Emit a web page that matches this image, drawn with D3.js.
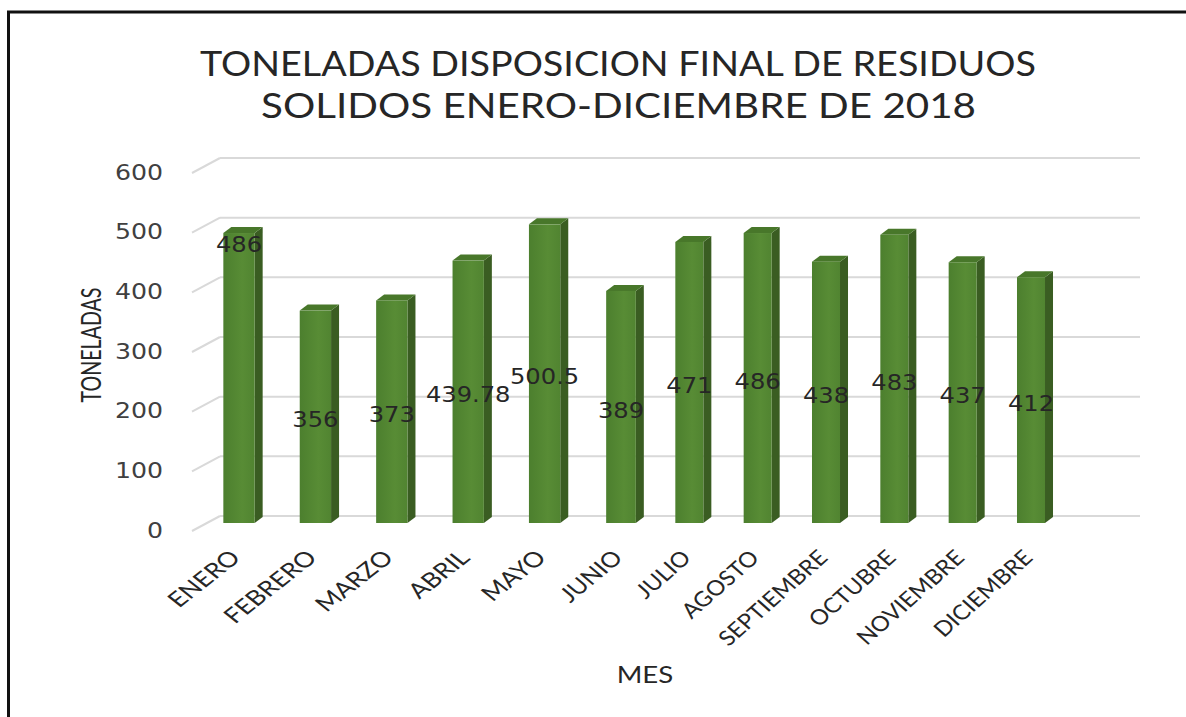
<!DOCTYPE html>
<html>
<head>
<meta charset="utf-8">
<script src="https://cdn.jsdelivr.net/npm/d3@7"></script>
<style>
  body { margin: 0; background: #fff; }
  svg { display: block; }
</style>
</head>
<body>
<div id="chart"></div>
<script>
// data
var months = ["ENERO", "FEBRERO", "MARZO", "ABRIL", "MAYO", "JUNIO",
  "JULIO", "AGOSTO", "SEPTIEMBRE", "OCTUBRE", "NOVIEMBRE", "DICIEMBRE"];
var tons = [486, 356, 373, 439.78, 500.5, 389, 471, 486, 438, 483, 437, 412];
var yTicks = [0, 100, 200, 300, 400, 500, 600];
var titleLines = ["TONELADAS DISPOSICION FINAL DE RESIDUOS", "SOLIDOS ENERO-DICIEMBRE DE 2018"];

var svgWidth = 1186;
var svgHeight = 717;
var labelFont = "Lato, 'Open Sans', sans-serif";
var numFont = "'DejaVu Sans', sans-serif";
// the source image is stretched sideways a little, so text is too
var stretch = 1.2;

var svg = d3.select("#chart")
  .append("svg")
  .attr("width", svgWidth)
  .attr("height", svgHeight);

var defs = svg.append("defs");
var grad = defs.append("linearGradient").attr("id", "front");
grad.append("stop").attr("offset", "0%").attr("stop-color", "#4c7f2e");
grad.append("stop").attr("offset", "60%").attr("stop-color", "#588c35");
grad.append("stop").attr("offset", "100%").attr("stop-color", "#518431");
defs.append("filter").attr("id", "blur")
  .append("feGaussianBlur").attr("stdDeviation", 1.5);

// frame (only top and left edges show in the picture)
svg.append("rect")
  .attr("x", 8.5).attr("y", 12)
  .attr("width", 1300).attr("height", 800)
  .attr("fill", "none")
  .attr("stroke", "#111")
  .attr("stroke-width", 3);

// scales - the original 3d view spaces the right half a bit tighter
var xScale = d3.scaleLinear().domain([0, 5, 11]).range([239, 621, 1031]);
var yScale = d3.scaleLinear().domain([0, 600]).range([523, 165]);
var step = i => xScale(i + 0.5) - xScale(i - 0.5);

var depthX = 8, depthY = 6;

// title
svg.selectAll(".title").data(titleLines).enter()
  .append("text")
  .attr("class", "title")
  .attr("x", (d, i) => i === 0 ? 200 : 261)
  .attr("y", (d, i) => i === 0 ? 76 : 118)
  .attr("textLength", (d, i) => i === 0 ? 836 : 715)
  .attr("lengthAdjust", "spacingAndGlyphs")
  .attr("font-family", labelFont)
  .attr("font-size", 34)
  .attr("fill", "#262626")
  .text(d => d);

// grid: back wall lines + left wall diagonals
var grid = svg.append("g");
grid.selectAll(".back").data(yTicks).enter()
  .append("line")
  .attr("x1", 220).attr("x2", 1140)
  .attr("y1", d => yScale(d) - 7).attr("y2", d => yScale(d) - 7)
  .attr("stroke", "#d9d9d9").attr("stroke-width", 2);
grid.selectAll(".side").data(yTicks).enter()
  .append("line")
  .attr("x1", 192).attr("x2", 220)
  .attr("y1", d => yScale(d) + 8).attr("y2", d => yScale(d) - 7)
  .attr("stroke", "#d9d9d9").attr("stroke-width", 2);

// floor shadow
svg.append("line")
  .attr("x1", 198).attr("x2", 1115)
  .attr("y1", yScale(0) + 2).attr("y2", yScale(0) + 2)
  .attr("stroke", "#9a9a9a").attr("stroke-width", 4)
  .attr("opacity", 0.7)
  .attr("filter", "url(#blur)");

// y tick labels
svg.selectAll(".ytick").data(yTicks).enter()
  .append("text")
  .attr("transform", d => `translate(163, ${yScale(d) + 7}) scale(${stretch}, 1)`)
  .attr("text-anchor", "end")
  .attr("dominant-baseline", "central")
  .attr("font-family", numFont)
  .attr("font-size", 21)
  .attr("fill", "#404040")
  .text(d => d);

// bars
var barW = i => 0.41 * step(i);
var bars = svg.selectAll(".bar").data(tons).enter()
  .append("g").attr("class", "bar");

bars.append("polygon") // side
  .attr("points", (d, i) => {
    var x1 = xScale(i) + barW(i) / 2, t = yScale(d), b = yScale(0);
    return [[x1, t], [x1 + depthX, t - depthY], [x1 + depthX, b - depthY], [x1, b]].join(" ");
  })
  .attr("fill", "#3a5d22");

bars.append("polygon") // top
  .attr("points", (d, i) => {
    var x0 = xScale(i) - barW(i) / 2, x1 = xScale(i) + barW(i) / 2, t = yScale(d);
    return [[x0, t], [x0 + depthX, t - depthY], [x1 + depthX, t - depthY], [x1, t]].join(" ");
  })
  .attr("fill", "#48772a");

bars.append("rect") // front
  .attr("x", (d, i) => xScale(i) - barW(i) / 2)
  .attr("y", d => yScale(d))
  .attr("width", (d, i) => barW(i))
  .attr("height", d => yScale(0) - yScale(d))
  .attr("fill", "url(#front)");

// data labels, half way up the bar; ENERO's label was dragged near the top
var labelAt = (d, i) => i === 0 ? d * 0.97 : d / 2;
svg.selectAll(".dlabel").data(tons).enter()
  .append("text")
  .attr("transform", (d, i) => `translate(${xScale(i)}, ${yScale(labelAt(d, i)) + 3}) scale(1.1, 1)`)
  .attr("text-anchor", "middle")
  .attr("dominant-baseline", "central")
  .attr("font-family", numFont)
  .attr("font-size", 22)
  .attr("fill", "#262626")
  .text(d => d);

// x tick labels (stretch follows the local bar spacing)
svg.selectAll(".xtick").data(months).enter()
  .append("text")
  .attr("transform", (d, i) =>
    `translate(${xScale(i) + 3}, 559) scale(${stretch * step(i) / 72}, 1) rotate(-45)`)
  .attr("text-anchor", "end")
  .attr("font-family", labelFont)
  .attr("font-size", 21)
  .attr("fill", "#262626")
  .text(d => d);

// axis titles
svg.append("text")
  .attr("transform", "translate(101, 345) rotate(-90)")
  .attr("text-anchor", "middle")
  .attr("textLength", 115)
  .attr("lengthAdjust", "spacingAndGlyphs")
  .attr("font-family", labelFont)
  .attr("font-size", 27)
  .attr("fill", "#262626")
  .text("TONELADAS");

svg.append("text")
  .attr("transform", `translate(645, 683) scale(${stretch}, 1)`)
  .attr("text-anchor", "middle")
  .attr("font-family", labelFont)
  .attr("font-size", 23)
  .attr("fill", "#262626")
  .text("MES");
</script>
</body>
</html>
